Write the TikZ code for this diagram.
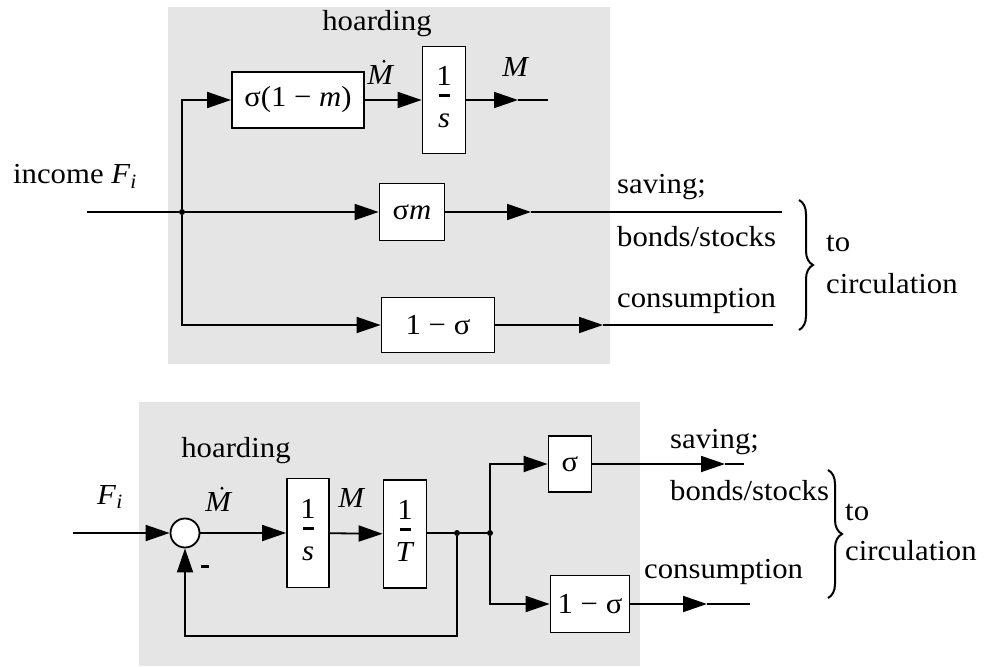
\documentclass[tikz,border=0pt]{standalone}
\usepackage{fontspec}
\setmainfont{Liberation Serif}[FakeStretch=1.06]
\usetikzlibrary{arrows.meta,decorations.pathreplacing}
\definecolor{panel}{gray}{0.9}
\tikzset{
  blk/.style={draw,fill=white,line width=1.8pt,inner sep=0pt},
  lbl/.style={inner sep=0pt},
  sig/.style={line width=1.8pt},
  arr/.style={sig,-{Triangle[length=24pt,width=16pt]}},
  jdot/.style={circle,fill,inner sep=0pt,minimum size=6pt},
  sumnode/.style={draw,circle,fill=white,line width=1.8pt,minimum size=29pt,inner sep=0pt},
  brc/.style={line width=2pt,decorate,decoration={brace,amplitude=14pt}},
}
\newcommand{\fr}[2]{\begin{tabular}{@{}c@{}}#1\\[-20pt]\rule{11pt}{3.5pt}\\[-2pt]\textit{#2}\end{tabular}}
\begin{document}
\begin{tikzpicture}[x=1pt,y=-1pt,font=\fontsize{29}{32}\selectfont]
\useasboundingbox (0,0) rectangle (984,666);
\fill[panel] (168,7) rectangle (610,364);
\fill[panel] (139,402) rectangle (640,666);

% upper diagram
\node[lbl] (hoardA) at (377,24) {hoarding};
\node[lbl] (incA) at (75,176) {income \textit{F}\textsubscript{\textit{i}}};
\coordinate (inA) at (87,212);
\node[jdot] (jA) at (182,212) {};
\node[blk,minimum width=132pt,minimum height=56pt] (hoardboxA) at (298,100) {σ(1 − \textit{m})};
\node[blk,minimum width=43pt,minimum height=107pt] (intA) at (444,100) {\fr{1}{s}};
\node[blk,minimum width=65pt,minimum height=57pt] (saveA) at (412,212) {σ\textit{m}};
\node[blk,minimum width=113pt,minimum height=55pt] (consA) at (438,325) {1 − σ};
\node[lbl] (MdA) at (381,75) {\textit{M}};
\fill ([xshift=3pt,yshift=4pt]MdA.north) circle (1.6pt);
\node[lbl] (MA) at (516,67) {\textit{M}};
\coordinate (outMa) at (518,100);
\coordinate (outM) at (548,100);
\coordinate (outSa) at (531,212);
\coordinate (outS) at (782,212);
\coordinate (outCa) at (603,325);
\coordinate (outC) at (773,325);

\draw[sig] (inA) -- (jA);
\draw[arr] (jA) |- (hoardboxA);
\draw[arr] (jA) -- (saveA);
\draw[arr] (jA) |- (consA);
\draw[arr] (hoardboxA) -- (intA);
\draw[arr] (intA) -- (outMa);
\draw[sig] (outMa) -- (outM);
\draw[arr] (saveA) -- (outSa);
\draw[sig] (outSa) -- (outS);
\draw[arr] (consA) -- (outCa);
\draw[sig] (outCa) -- (outC);

\node[lbl,anchor=west] (savA) at (617,187) {saving;};
\node[lbl,anchor=west] (bsA) at (617,237) {bonds/stocks};
\node[lbl,anchor=west] (coA) at (617,301) {consumption};
\coordinate (brAt) at (799,200);
\coordinate (brAb) at (799,330);
\draw[brc] (brAt) -- (brAb);
\node[lbl,anchor=west] (toA) at (826,243) {to};
\node[lbl,anchor=west] (ciA) at (826,284) {circulation};

% lower diagram
\node[lbl] (hoardB) at (236,451) {hoarding};
\node[lbl] (FiB) at (110,497) {\textit{F}\textsubscript{\textit{i}}};
\coordinate (inB) at (73,533);
\node[sumnode] (sumB) at (185,533) {};
\node[lbl] (MdB) at (219,502) {\textit{M}};
\fill ([xshift=3pt,yshift=4pt]MdB.north) circle (1.6pt);
\node[blk,minimum width=42pt,minimum height=109pt] (intB) at (308,533) {\fr{1}{s}};
\node[lbl] (MB) at (352,498) {\textit{M}};
\node[blk,minimum width=43pt,minimum height=108pt] (lagB) at (405,534) {\fr{1}{\textit{T}}};
\node[jdot] (jB) at (457,533) {};
\node[jdot] (kB) at (490,533) {};
\node[blk,minimum width=43pt,minimum height=56pt] (saveB) at (570,464) {σ};
\node[blk,minimum width=79pt,minimum height=57pt] (consB) at (590,604) {1 − σ};
\node[lbl] (negB) at (205,566) {\rule{8pt}{3pt}};
\coordinate (fbB) at (457,636);
\coordinate (outSBa) at (725,464);
\coordinate (outSB) at (744,464);
\coordinate (outCBa) at (707,604);
\coordinate (outCB) at (750,604);

\draw[arr] (inB) -- (sumB);
\draw[arr] (sumB) -- (intB);
\draw[arr] (intB) -- (lagB);
\draw[sig] (lagB.east |- jB) -- (jB) -- (kB);
\draw[arr] (kB) |- (saveB);
\draw[arr] (kB) |- (consB);
\draw[arr] (jB) -- (fbB) -| (sumB);
\draw[arr] (saveB) -- (outSBa);
\draw[sig] (outSBa) -- (outSB);
\draw[arr] (consB) -- (outCBa);
\draw[sig] (outCBa) -- (outCB);

\node[lbl,anchor=west] (savB) at (670,442) {saving;};
\node[lbl,anchor=west] (bsB) at (670,491) {bonds/stocks};
\node[lbl,anchor=west] (coB) at (644,572) {consumption};
\coordinate (brBt) at (828,470);
\coordinate (brBb) at (828,598);
\draw[brc] (brBt) -- (brBb);
\node[lbl,anchor=west] (toB) at (845,512) {to};
\node[lbl,anchor=west] (ciB) at (845,551) {circulation};
\end{tikzpicture}
\end{document}
